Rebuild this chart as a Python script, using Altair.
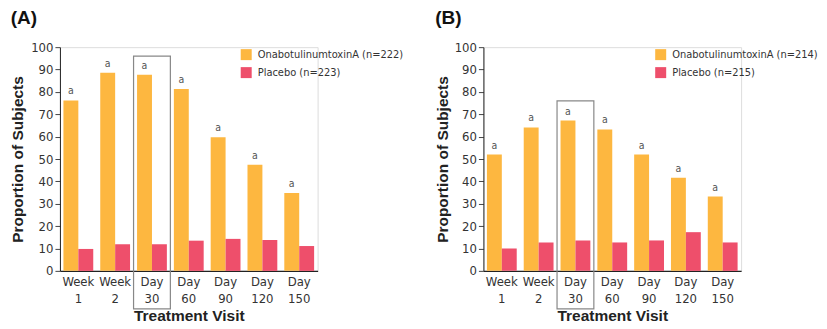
import altair as alt
import pandas as pd

visits = ["Week 1", "Week 2", "Day 30", "Day 60", "Day 90", "Day 120", "Day 150"]
a_groups = ["OnabotulinumtoxinA (n=222)", "Placebo (n=223)"]
a_botox = [76.2, 88.6, 87.7, 81.3, 59.7, 47.4, 34.8]
a_placebo = [9.8, 11.9, 11.9, 13.5, 14.3, 13.8, 11.1]
b_groups = ["OnabotulinumtoxinA (n=214)", "Placebo (n=215)"]
b_botox = [52.0, 64.1, 67.2, 63.2, 52.0, 41.6, 33.2]
b_placebo = [10.0, 12.7, 13.6, 12.7, 13.6, 17.3, 12.7]
y_ticks = [0, 10, 20, 30, 40, 50, 60, 70, 80, 90, 100]
sig_label = "a"
box_visit = "Day 30"
a_box_top = 96
b_box_top = 76
box_bottom = -17

ORANGE = "#FDB740"
PINK = "#EE4F6B"
FONT = "DejaVu Sans Condensed, Roboto Condensed, Liberation Sans Narrow, Roboto, sans-serif"
BOLD = "Liberation Sans"
W = 258
H = 224
PI = 0.19
PO = 0.095
STEP = W / (len(visits) - PI + 2 * PO)
BW = STEP * (1 - PI)
HALF = BW / 2


def panel(tag, groups, botox, placebo, box_top, title_pad, leg_x):
    df = pd.DataFrame({
        "visit": visits * 2,
        "group": [groups[0]] * len(visits) + [groups[1]] * len(visits),
        "value": botox + placebo,
    })
    xs = alt.Scale(type="band", domain=visits, paddingInner=PI, paddingOuter=PO)
    ys = alt.Scale(domain=[0, 100], nice=False)
    cs = alt.Scale(domain=groups, range=[ORANGE, PINK])
    x_axis = alt.Axis(labelAngle=0, ticks=False, labelExpr="split(datum.label, ' ')",
                      labelLineHeight=17, labelFontSize=13, labelColor="#333",
                      labelPadding=5, domainColor="#222", domainWidth=1.2,
                      titleFontSize=15.5, titleFontWeight="bold", titleFont=BOLD,
                      titleColor="#222", titlePadding=3)
    y_axis = alt.Axis(values=y_ticks, tickSize=5, labelFontSize=13, labelColor="#333",
                      labelPadding=2, domainColor="#222", tickColor="#444", grid=False,
                      labelOverlap=False,
                      titleFontSize=15.5, titleFontWeight="bold", titleFont=BOLD,
                      titleColor="#222", titlePadding=title_pad)
    legend = alt.Legend(orient="none", legendX=leg_x, legendY=2, title=None,
                        symbolType="square", symbolSize=121, symbolStrokeWidth=0,
                        symbolOpacity=1, labelFontSize=11, labelColor="#333",
                        labelFont=FONT, rowPadding=6, labelOffset=6, labelLimit=300)
    xt = "Treatment Visit"
    yt = "Proportion of Subjects"
    base = alt.Chart(df)
    enc = dict(
        x=alt.X("visit:N", scale=xs, sort=visits, title=xt, axis=x_axis),
        y=alt.Y("value:Q", scale=ys, title=yt, axis=y_axis),
        color=alt.Color("group:N", scale=cs, legend=legend),
    )
    bars_a = base.transform_filter(alt.datum.group == groups[0]).mark_bar(
        width=HALF, xOffset=-HALF / 2).encode(**enc)
    bars_b = base.transform_filter(alt.datum.group == groups[1]).mark_bar(
        width=HALF, xOffset=HALF / 2).encode(**enc)
    labels = base.transform_filter(alt.datum.group == groups[0]).mark_text(
        dy=-9, dx=-HALF / 2, fontSize=10.5, color="#555", font=FONT
    ).encode(
        x=alt.X("visit:N", scale=xs, sort=visits, title=xt, axis=x_axis),
        y=alt.Y("value:Q", scale=ys, title=yt, axis=y_axis),
        text=alt.value(sig_label),
    )
    box_df = pd.DataFrame({"visit": [box_visit], "top": [box_top], "bottom": [box_bottom]})
    box = alt.Chart(box_df).mark_bar(width=STEP, fill="transparent", stroke="#888",
                                     strokeWidth=1.2).encode(
        x=alt.X("visit:N", scale=xs, sort=visits, title=xt, axis=x_axis),
        y=alt.Y("top:Q", scale=ys, title=yt, axis=y_axis),
        y2="bottom:Q",
    )
    return alt.layer(bars_a, bars_b, labels, box).properties(
        width=W, height=H,
        title=alt.Title(tag, anchor="start", frame="bounds", fontSize=19, font=BOLD,
                        fontWeight="bold", color="#111", offset=13),
    )


pa = panel("(A)", a_groups, a_botox, a_placebo, a_box_top, 5, 181)
pb = panel("(B)", b_groups, b_botox, b_placebo, b_box_top, 4, 172)

chart = alt.hconcat(pa, pb, spacing=166, bounds="flush").resolve_scale(
    color="independent"
).resolve_legend(color="independent").properties(
    padding={"left": 2, "top": 0, "right": 0, "bottom": 0}
).configure_view(strokeWidth=0).configure(font=FONT)

chart.save("out.html", embed_options={"renderer": "svg", "actions": False})
